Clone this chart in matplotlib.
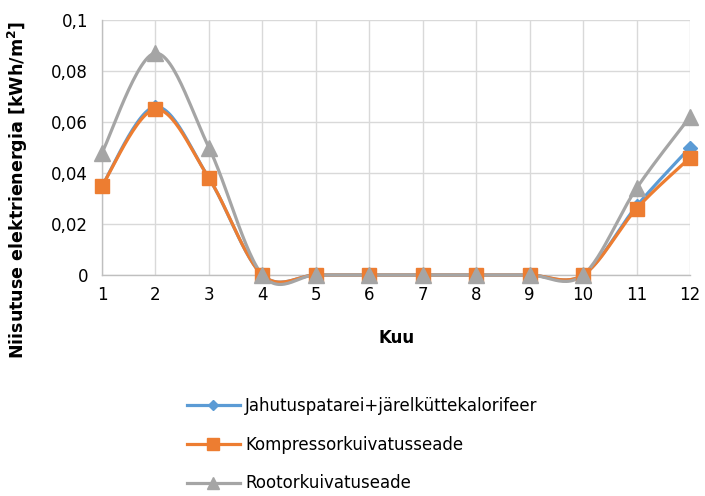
import numpy as np
import matplotlib.pyplot as plt
from matplotlib.ticker import FuncFormatter
from matplotlib.lines import Line2D

kuu = [1, 2, 3, 4, 5, 6, 7, 8, 9, 10, 11, 12]
jahutus = [0.035, 0.066, 0.038, 0, 0, 0, 0, 0, 0, 0, 0.027, 0.050]
kompressor = [0.035, 0.065, 0.038, 0, 0, 0, 0, 0, 0, 0, 0.026, 0.046]
rootor = [0.048, 0.087, 0.050, 0, 0, 0, 0, 0, 0, 0, 0.034, 0.062]
nimed = ['Jahutuspatarei+järelküttekalorifeer', 'Kompressorkuivatusseade', 'Rootorkuivatuseade']
varvid = ['#5B9BD5', '#ED7D31', '#A5A5A5']
markerid = ['D', 's', '^']
msuurus = [7, 10, 11]


def silu(x, y, n=30):
    # bezier-silumine nagu Exceli joondiagrammil
    x = np.asarray(x, float)
    y = np.asarray(y, float)
    px = np.concatenate([[x[0]], x, [x[-1]]])
    py = np.concatenate([[y[0]], y, [y[-1]]])
    xs, ys = [], []
    t = np.linspace(0, 1, n)
    for i in range(len(x) - 1):
        p0 = np.array([px[i + 1], py[i + 1]])
        p3 = np.array([px[i + 2], py[i + 2]])
        c1 = p0 + (p3 - np.array([px[i], py[i]])) / 6
        c2 = p3 - (np.array([px[i + 3], py[i + 3]]) - p0) / 6
        b = ((1 - t) ** 3)[:, None] * p0 + (3 * (1 - t) ** 2 * t)[:, None] * c1 \
            + (3 * (1 - t) * t ** 2)[:, None] * c2 + (t ** 3)[:, None] * p3
        xs.extend(b[:, 0])
        ys.extend(b[:, 1])
    return np.array(xs), np.array(ys)


plt.rcParams['font.family'] = 'DejaVu Sans'
fig = plt.figure(figsize=(7.05, 4.96), dpi=100)
ax = fig.add_axes([102 / 705, 1 - 275 / 496, 588 / 705, 255 / 496])

for seeria, nimi, v, m, ms in zip([jahutus, kompressor, rootor], nimed, varvid, markerid, msuurus):
    sx, sy = silu(kuu, seeria)
    ax.plot(sx, sy, color=v, lw=2.3, solid_capstyle='round', zorder=3, clip_on=False)
    ax.plot(kuu, seeria, linestyle='none', marker=m, ms=ms, color=v, zorder=4, clip_on=False)

ax.set_xlim(1, 12)
ax.set_ylim(0, 0.1)
ax.set_xticks(kuu)
ax.set_yticks(np.arange(0, 0.101, 0.02))
ax.yaxis.set_major_formatter(FuncFormatter(lambda v, p: '0' if v == 0 else ('%g' % round(v, 2)).replace('.', ',')))
ax.grid(True, color='#D9D9D9', lw=1)
ax.set_axisbelow(True)
for s in ['top', 'right']:
    ax.spines[s].set_visible(False)
for s in ['left', 'bottom']:
    ax.spines[s].set_color('#BFBFBF')
    ax.spines[s].set_linewidth(1)
ax.tick_params(length=0, labelsize=12, pad=8)
ax.tick_params(axis='y', pad=10)

fig.text(397 / 705, 1 - 338 / 496, 'Kuu', ha='center', va='center', fontsize=12, fontweight='bold')
fig.text(18 / 705, 1 - 190 / 496, 'Niisutuse elektrienergia [kWh/m$^\\mathbf{2}$]', rotation=90,
         ha='center', va='center', fontsize=12.6, fontweight='bold')

kasitsejad = [Line2D([], [], color=v, lw=2.3, marker=m, ms=ms * 0.8) for v, m, ms in zip(varvid, markerid, msuurus)]
fig.legend(kasitsejad, nimed, loc='upper left', bbox_to_anchor=(180 / 705, 1 - 390 / 496), frameon=False,
           fontsize=12, handlelength=3.2, handletextpad=0.3, labelspacing=1.25, borderaxespad=0)

fig.savefig('out.png', dpi=100)
